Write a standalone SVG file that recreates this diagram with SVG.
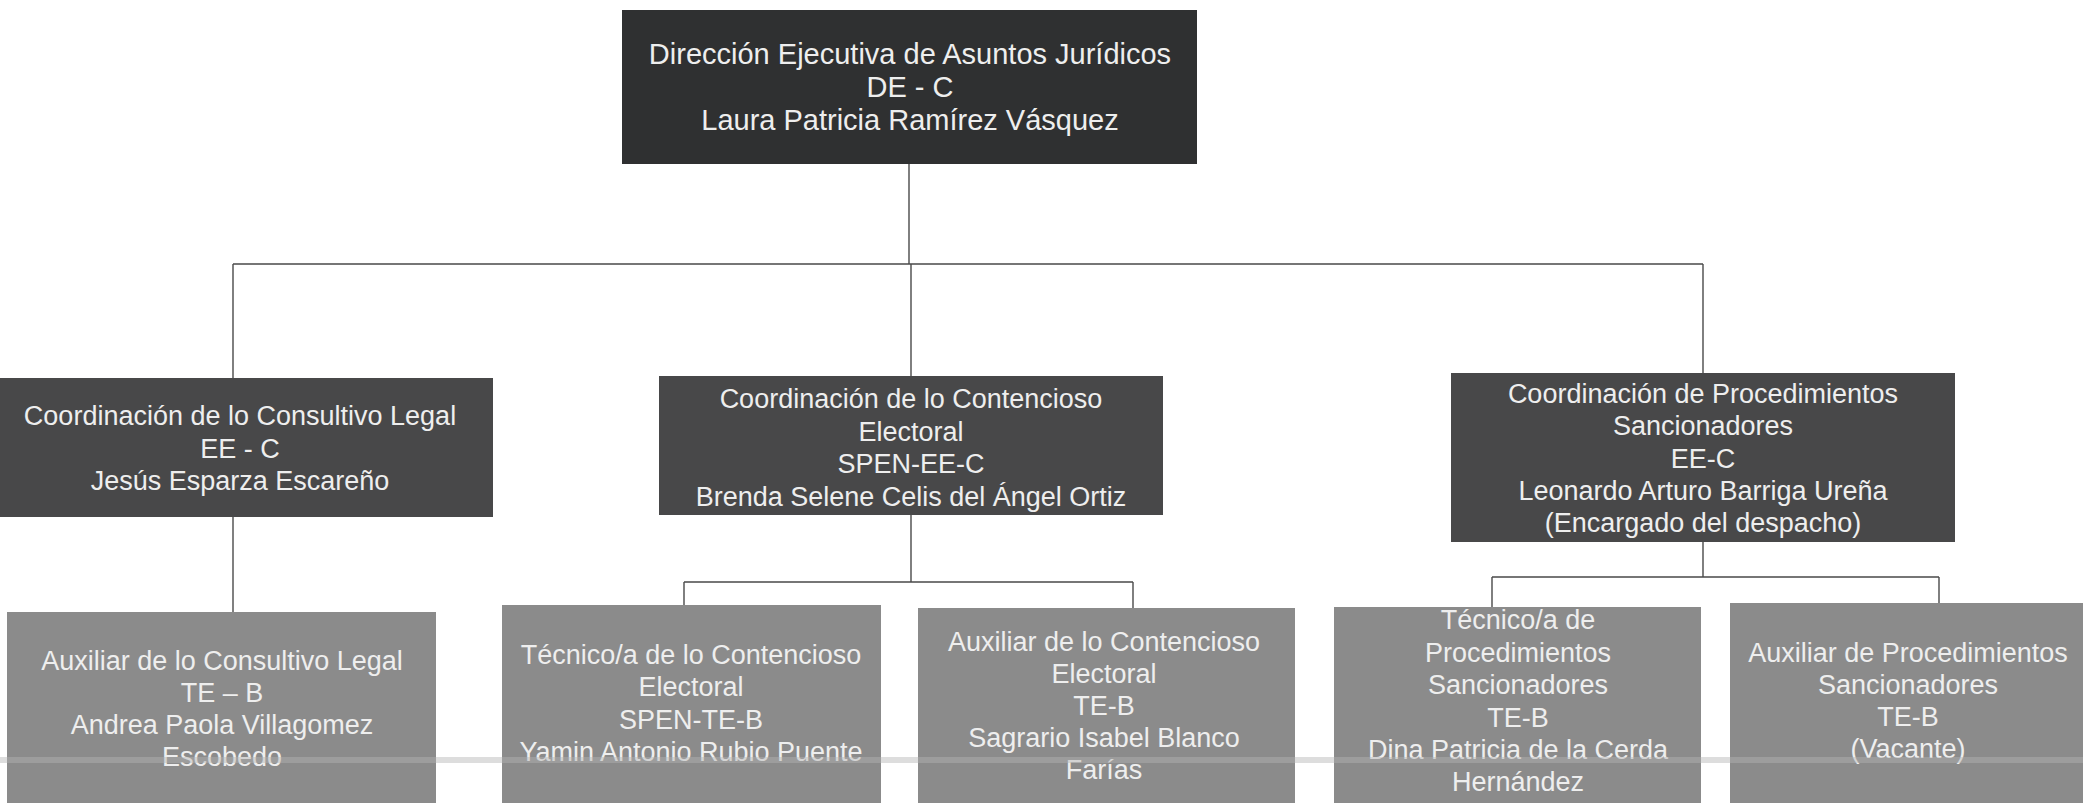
<svg xmlns="http://www.w3.org/2000/svg" width="2083" height="803" viewBox="0 0 2083 803">
<style>
.t{font-family:"Liberation Sans",Arial,sans-serif;fill:#eeeeee;text-anchor:middle}
.top{fill:#2f3031}
.l2{fill:#484849}
.l3{fill:#8b8b8b}
.c{stroke:#4a4a4a;stroke-width:1.4;fill:none}
</style>
<rect x="0" y="0" width="2083" height="803" fill="#ffffff"/>
<g id="connectors">
<path class="c" d="M909 164V264M233 264H1703M233 264V378M911 264V376M1703 264V373"/>
<path class="c" d="M233 517V612"/>
<path class="c" d="M911 515V582M684 582H1133M684 582V605M1133 582V608"/>
<path class="c" d="M1703 542V577M1492 577H1939M1492 577V607M1939 577V603"/>
</g>
<g id="n-direccion">
<rect class="top" x="622" y="10" width="575" height="154"/>
<text class="t" font-size="29"><tspan x="910" y="64">Dirección Ejecutiva de Asuntos Jurídicos</tspan><tspan x="910" y="97">DE - C</tspan><tspan x="910" y="130">Laura Patricia Ramírez Vásquez</tspan></text>
</g>
<g id="n-consultivo">
<rect class="l2" x="-13" y="378" width="506" height="139"/>
<text class="t" font-size="27"><tspan x="240" y="425">Coordinación de lo Consultivo Legal</tspan><tspan x="240" y="458">EE - C</tspan><tspan x="240" y="490">Jesús Esparza Escareño</tspan></text>
</g>
<g id="n-contencioso">
<rect class="l2" x="659" y="376" width="504" height="139"/>
<text class="t" font-size="27"><tspan x="911" y="408">Coordinación de lo Contencioso</tspan><tspan x="911" y="441">Electoral</tspan><tspan x="911" y="473">SPEN-EE-C</tspan><tspan x="911" y="506">Brenda Selene Celis del Ángel Ortiz</tspan></text>
</g>
<g id="n-procedimientos">
<rect class="l2" x="1451" y="373" width="504" height="169"/>
<text class="t" font-size="27"><tspan x="1703" y="403">Coordinación de Procedimientos</tspan><tspan x="1703" y="435">Sancionadores</tspan><tspan x="1703" y="468">EE-C</tspan><tspan x="1703" y="500">Leonardo Arturo Barriga Ureña</tspan><tspan x="1703" y="532">(Encargado del despacho)</tspan></text>
</g>
<g id="n-aux-consultivo">
<rect class="l3" x="7" y="612" width="429" height="200"/>
<text class="t" font-size="27"><tspan x="222" y="670">Auxiliar de lo Consultivo Legal</tspan><tspan x="222" y="702">TE – B</tspan><tspan x="222" y="734">Andrea Paola Villagomez</tspan><tspan x="222" y="766">Escobedo</tspan></text>
</g>
<g id="n-tec-contencioso">
<rect class="l3" x="502" y="605" width="379" height="207"/>
<text class="t" font-size="27"><tspan x="691" y="664">Técnico/a de lo Contencioso</tspan><tspan x="691" y="696">Electoral</tspan><tspan x="691" y="729">SPEN-TE-B</tspan><tspan x="691" y="761">Yamin Antonio Rubio Puente</tspan></text>
</g>
<g id="n-aux-contencioso">
<rect class="l3" x="918" y="608" width="377" height="204"/>
<text class="t" font-size="27"><tspan x="1104" y="651">Auxiliar de lo Contencioso</tspan><tspan x="1104" y="683">Electoral</tspan><tspan x="1104" y="715">TE-B</tspan><tspan x="1104" y="747">Sagrario Isabel Blanco</tspan><tspan x="1104" y="779">Farías</tspan></text>
</g>
<g id="n-tec-procedimientos">
<rect class="l3" x="1334" y="607" width="367" height="205"/>
<text class="t" font-size="27"><tspan x="1518" y="629">Técnico/a de</tspan><tspan x="1518" y="662">Procedimientos</tspan><tspan x="1518" y="694">Sancionadores</tspan><tspan x="1518" y="727">TE-B</tspan><tspan x="1518" y="759">Dina Patricia de la Cerda</tspan><tspan x="1518" y="791">Hernández</tspan></text>
</g>
<g id="n-aux-procedimientos">
<rect class="l3" x="1730" y="603" width="360" height="209"/>
<text class="t" font-size="27"><tspan x="1908" y="662">Auxiliar de Procedimientos</tspan><tspan x="1908" y="694">Sancionadores</tspan><tspan x="1908" y="726">TE-B</tspan><tspan x="1908" y="758">(Vacante)</tspan></text>
</g>
<rect x="0" y="757" width="2083" height="6" fill="#b4b4b4" opacity="0.45"/>
</svg>
